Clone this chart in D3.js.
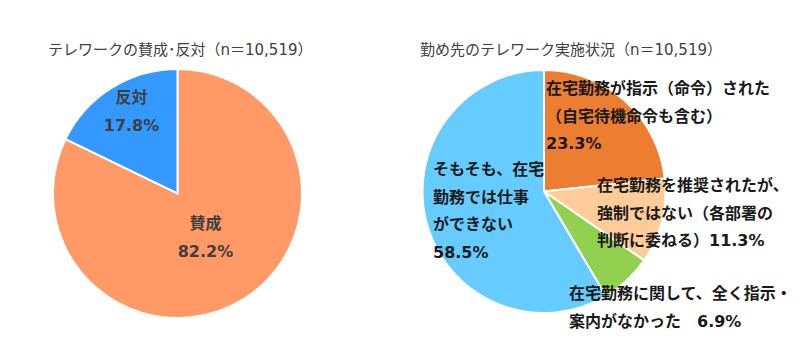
<!DOCTYPE html>
<html>
<head>
<meta charset="utf-8">
<script src="https://cdn.jsdelivr.net/npm/d3@7"></script>
<style>
  body { margin: 0; background: #fff; }
  text { font-family: "DejaVu Sans", "Noto Sans CJK JP", sans-serif; }
</style>
</head>
<body>
<div id="chart"></div>
<script>
// data
var leftTitle = "テレワークの賛成･反対（n＝10,519）";
var leftCats = ["賛成", "反対"];
var leftVals = [82.2, 17.8];
var leftColors = ["#FF9966", "#3399FF"];

var rightTitle = "勤め先のテレワーク実施状況（n＝10,519）";
var rightCats = [
  ["在宅勤務が指示（命令）された", "（自宅待機命令も含む）", "23.3%"],
  ["在宅勤務を推奨されたが、", "強制ではない（各部署の", "判断に委ねる）11.3%"],
  ["在宅勤務に関して、全く指示・", "案内がなかった　6.9%"],
  ["そもそも、在宅", "勤務では仕事", "ができない", "58.5%"]
];
var rightVals = [23.3, 11.3, 6.9, 58.5];
var rightColors = ["#ED7D31", "#FFCC99", "#92D050", "#66CCFF"];

// layout
var svgWidth = 800;
var svgHeight = 359;
var lineH = 27.5;

var svg = d3.select("#chart")
  .append("svg")
  .attr("width", svgWidth)
  .attr("height", svgHeight);

var pie = d3.pie().sort(null).value(d => d);

// ---- left pie
var left = { cx: 177.5, cy: 193.5, r: 124.5 };
var leftArc = d3.arc().innerRadius(0).outerRadius(left.r);

var leftG = svg.append("g")
  .attr("transform", `translate(${left.cx}, ${left.cy})`);

leftG.selectAll("path")
  .data(pie(leftVals))
  .enter()
  .append("path")
  .attr("d", leftArc)
  .attr("fill", (d, i) => leftColors[i])
  .attr("stroke", "#fff")
  .attr("stroke-width", 2);

// label centres, relative to pie centre
var leftLabelPos = [[28, 35], [-46, -91]];
leftCats.forEach(function(c, i) {
  var t = leftG.append("text")
    .attr("text-anchor", "middle")
    .attr("fill", "#404040")
    .attr("font-weight", "bold")
    .attr("font-size", 16);
  t.append("tspan")
    .attr("x", leftLabelPos[i][0])
    .attr("y", leftLabelPos[i][1])
    .text(c);
  t.append("tspan")
    .attr("x", leftLabelPos[i][0])
    .attr("y", leftLabelPos[i][1] + 28)
    .text(leftVals[i].toFixed(1) + "%");
});

svg.append("text")
  .attr("x", 48)
  .attr("y", 55)
  .attr("font-size", 15)
  .attr("fill", "#404040")
  .text(leftTitle);

// ---- right pie
var right = { cx: 544, cy: 191.5, r: 121.5 };
var rightArc = d3.arc().innerRadius(0).outerRadius(right.r);

var rightG = svg.append("g")
  .attr("transform", `translate(${right.cx}, ${right.cy})`);

rightG.selectAll("path")
  .data(pie(rightVals))
  .enter()
  .append("path")
  .attr("d", rightArc)
  .attr("fill", (d, i) => rightColors[i])
  .attr("stroke", "#fff")
  .attr("stroke-width", 2);

// label top-left, absolute
var rightLabelPos = [[546, 94], [597, 191], [569, 299], [433, 175]];
rightCats.forEach(function(lines, i) {
  var t = svg.append("text")
    .attr("fill", "#1a1a1a")
    .attr("font-weight", "bold")
    .attr("font-size", 16);
  lines.forEach(function(l, j) {
    t.append("tspan")
      .attr("x", rightLabelPos[i][0])
      .attr("y", rightLabelPos[i][1] + j * lineH)
      .text(l);
  });
});

svg.append("text")
  .attr("x", 420)
  .attr("y", 55)
  .attr("font-size", 15)
  .attr("fill", "#404040")
  .text(rightTitle);
</script>
</body>
</html>
